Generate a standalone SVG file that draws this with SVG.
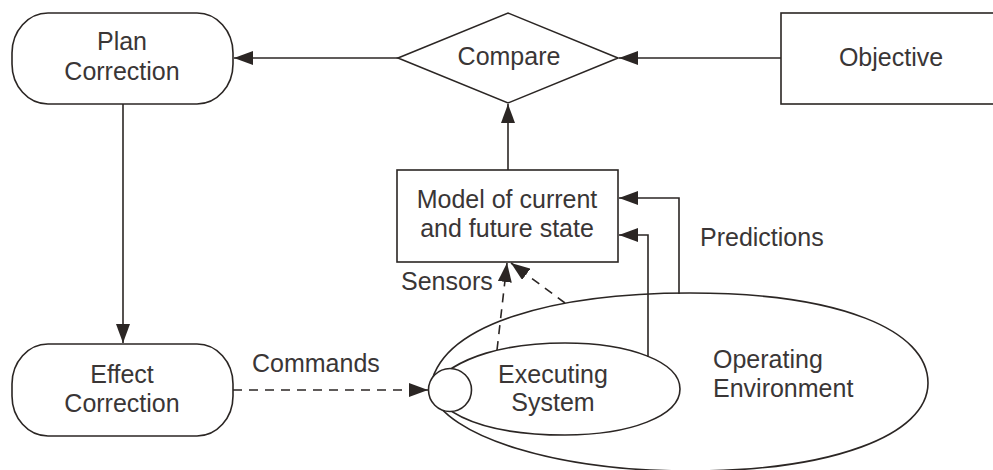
<svg xmlns="http://www.w3.org/2000/svg" width="993" height="470" viewBox="0 0 993 470">
  <defs>
    <style>
      .shape { fill: #ffffff; stroke: #2b2624; stroke-width: 1.6; }
      .edge { fill: none; stroke: #2b2624; stroke-width: 1.6; }
      .dash { stroke-dasharray: 9 7; }
      .lbl { font-family: "Liberation Sans", Arial, Helvetica, sans-serif; font-size: 25px; fill: #3a3636; }
      .mid { text-anchor: middle; }
    </style>
    <marker id="arrow" viewBox="0 0 19 14" refX="19" refY="7" markerWidth="19" markerHeight="14" markerUnits="userSpaceOnUse" orient="auto">
      <path d="M0,0 L19,7 L0,14 z" fill="#2b2624"/>
    </marker>
  </defs>

  <rect width="993" height="470" fill="#ffffff"/>

  <!-- environment shapes -->
  <g id="operating-environment">
    <path class="shape" d="M 430 390 C 438 322, 560 293, 690 293 C 840 293, 928 330, 928 383 C 928 436, 830 471, 690 471 C 560 471, 445 438, 430 390 Z"/>
    <text class="lbl" x="713" y="368">Operating</text>
    <text class="lbl" x="713" y="397">Environment</text>
  </g>

  <g id="executing-system">
    <path class="shape" d="M 430 388 C 455 355, 510 343, 565 343 C 630 343, 680 362, 680 389 C 680 416, 630 435, 565 435 C 510 435, 455 425, 430 392 Z"/>
    <circle class="shape" cx="450" cy="390" r="21.5"/>
    <text class="lbl mid" x="553" y="383">Executing</text>
    <text class="lbl mid" x="553" y="411">System</text>
  </g>

  <!-- decision nodes -->
  <g id="plan-correction">
    <rect class="shape" x="12" y="13" width="221" height="91" rx="36" ry="40"/>
    <text class="lbl mid" x="122" y="50">Plan</text>
    <text class="lbl mid" x="122" y="80">Correction</text>
  </g>

  <g id="effect-correction">
    <rect class="shape" x="12" y="344" width="221" height="92" rx="36" ry="40"/>
    <text class="lbl mid" x="122" y="383">Effect</text>
    <text class="lbl mid" x="122" y="412">Correction</text>
  </g>

  <g id="compare">
    <polygon class="shape" points="398,58 508,13 618,58 508,103"/>
    <text class="lbl mid" x="509" y="65">Compare</text>
  </g>

  <g id="objective">
    <rect class="shape" x="781" y="13" width="222" height="91"/>
    <text class="lbl mid" x="891" y="66">Objective</text>
  </g>

  <g id="model">
    <rect class="shape" x="397" y="170" width="221" height="92"/>
    <text class="lbl mid" x="507" y="208">Model of current</text>
    <text class="lbl mid" x="507" y="237">and future state</text>
  </g>

  <!-- connectors -->
  <g id="connectors">
    <line class="edge" x1="781" y1="58" x2="619" y2="58" marker-end="url(#arrow)"/>
    <line class="edge" x1="398" y1="58" x2="234" y2="58" marker-end="url(#arrow)"/>
    <line class="edge" x1="508" y1="170" x2="508" y2="104" marker-end="url(#arrow)"/>
    <line class="edge" x1="123" y1="104" x2="123" y2="343" marker-end="url(#arrow)"/>
    <line class="edge dash" x1="233" y1="390" x2="428" y2="390" marker-end="url(#arrow)"/>
    <polyline class="edge" points="679,294 679,198 619,198" marker-end="url(#arrow)"/>
    <polyline class="edge" points="648,357 648,235 619,235" marker-end="url(#arrow)"/>
    <line class="edge dash" x1="497" y1="350" x2="507" y2="263" marker-end="url(#arrow)"/>
    <line class="edge dash" x1="565" y1="303" x2="511" y2="263" marker-end="url(#arrow)"/>
    <text class="lbl" x="252" y="372">Commands</text>
    <text class="lbl" x="401" y="290">Sensors</text>
    <text class="lbl" x="700" y="246">Predictions</text>
  </g>
</svg>
